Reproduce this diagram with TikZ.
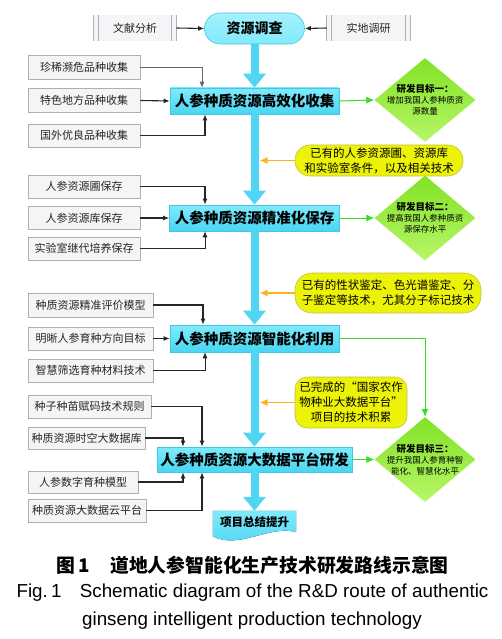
\documentclass[tikz,border=0pt]{standalone}
\usepackage{fontspec}
\setmainfont{Liberation Sans}
\newfontfamily\cjk{Noto Sans CJK SC}
\usepackage{tikz}
\usetikzlibrary{arrows.meta,calc,positioning,shapes.geometric,backgrounds}

\definecolor{srcgray}{RGB}{243,245,246}
\definecolor{srcedge}{RGB}{172,176,178}
\definecolor{stagetop}{RGB}{128,234,251}
\definecolor{stagebot}{RGB}{72,214,243}
\definecolor{stageedge}{RGB}{70,196,228}
\definecolor{spinecyan}{RGB}{80,214,244}
\definecolor{goaltop}{RGB}{130,226,38}
\definecolor{goalbot}{RGB}{182,246,104}
\definecolor{basisfill}{RGB}{236,242,8}
\definecolor{basisedge}{RGB}{190,196,70}
\definecolor{linkgreen}{RGB}{52,222,34}
\definecolor{linkorange}{RGB}{255,176,30}

\tikzset{
	src/.style={draw=srcedge, fill=srcgray, line width=0.6pt, minimum height=23pt, inner sep=0pt, text=black!85, font=\cjk\fontsize{11}{13}\selectfont},
	stage/.style={draw=stageedge, top color=stagetop, bottom color=stagebot, line width=0.6pt, minimum height=26pt, inner sep=0pt, font=\cjk\bfseries\fontsize{14.5}{16}\selectfont},
	goal/.style={diamond, top color=goaltop, bottom color=goalbot, inner sep=0pt, minimum width=101pt, minimum height=84pt},
	goaltxt/.style={align=center, font=\cjk\fontsize{8.5}{11}\selectfont},
	basis/.style={draw=basisedge, fill=basisfill, line width=0.6pt, align=center, inner sep=0pt, font=\cjk\fontsize{11.5}{15}\selectfont},
	feed/.style={draw=black!85, line width=1.1pt, -{Latex[length=6pt,width=5pt]}},
	togoal/.style={draw=linkgreen, line width=1pt, -{Latex[length=8pt,width=7pt]}},
	tospine/.style={draw=linkorange, line width=1.2pt, -{Latex[length=8pt,width=7pt]}},
	flow/.style={draw=spinecyan, line width=8pt, -{Triangle[length=14pt,width=22pt]}}
}

\begin{document}
\begin{tikzpicture}[x=1pt, y=-1pt]
	\useasboundingbox (0,0) rectangle (501,639);
	
	% survey row
	\node[src, draw=none, minimum width=82pt, minimum height=26pt] (lit) at (135,28) {文献分析};
	\node[src, draw=none, minimum width=83pt, minimum height=26pt] (field) at (368.5,28) {实地调研};
	\foreach \b in {lit,field}
		\draw[srcedge, line width=0.6pt] (\b.north west) -- (\b.south west)
			([xshift=5pt]\b.north west) -- ([xshift=5pt]\b.south west)
			([xshift=-5pt]\b.north east) -- ([xshift=-5pt]\b.south east)
			(\b.north east) -- (\b.south east);
	\node[draw=stageedge, top color=stagetop!70!white, bottom color=stagetop, line width=0.6pt, rounded corners=15.5pt, minimum width=100pt, minimum height=31pt, inner sep=0pt, font=\cjk\bfseries\fontsize{14}{16}\selectfont] (survey) at (254.5,28.5) {资源调查};
	\draw[feed] (lit.east) -- (survey.west);
	\draw[feed] (field.west) -- (survey.east);
	
	% four stages
	\node[stage, minimum width=169pt] (collect) at (254.5,101) {人参种质资源高效化收集};
	\node[stage, minimum width=170pt] (preserve) at (254.5,218) {人参种质资源精准化保存};
	\node[stage, minimum width=169pt, minimum height=27pt] (utilize) at (254.5,338.5) {人参种质资源智能化利用};
	\node[stage, minimum width=195pt, minimum height=25pt] (bigdata) at (254.5,459.5) {人参种质资源大数据平台研发};
	\node[minimum width=83pt, minimum height=23pt, inner sep=0pt, font=\cjk\bfseries\fontsize{11.5}{13}\selectfont] (summary) at (254.5,522.5) {项目总结提升};
	\begin{scope}[on background layer]
		\fill[top color=stagetop, bottom color=stagebot] (summary.north west) -- (summary.north east)
			-- ($(summary.south east)+(0,-2)$) .. controls ($(summary.south east)+(-26,-10)$) and ($(summary.south west)+(26,16)$) .. ($(summary.south west)+(0,2)$) -- cycle;
	\end{scope}
	
	\draw[flow] (survey.south) -- (collect.north);
	\draw[flow] (collect.south) -- (preserve.north);
	\draw[flow] (preserve.south) -- (utilize.north);
	\draw[flow] (utilize.south) -- (bigdata.north);
	\draw[flow] (bigdata.south) -- (summary.north);
	\coordinate (spine) at (259.5,0);
	
	% inputs: collection
	\node[src, minimum width=112pt, minimum height=24pt] (rare) at (84,67) {珍稀濒危品种收集};
	\node[src, minimum width=112pt, minimum height=24pt] (local) at (84,100.5) {特色地方品种收集};
	\node[src, minimum width=112pt] (foreign) at (84,135.5) {国外优良品种收集};
	\draw[feed, draw=black!60, line width=0.8pt] (rare.east) -| ([xshift=-52.5pt]collect.north);
	\draw[feed] (local.east) -- (collect.west);
	\draw[feed] (foreign.east) -| ([xshift=-49.5pt]collect.south);
	
	% inputs: preservation
	\node[src, minimum width=112pt] (garden) at (84,186.5) {人参资源圃保存};
	\node[src, minimum width=112pt] (bank) at (84,218) {人参资源库保存};
	\node[src, minimum width=112pt] (lab) at (84,248.5) {实验室继代培养保存};
	\draw[feed] (garden.east) -| ([xshift=-49.5pt]preserve.north);
	\draw[feed] (bank.east) -- (preserve.west);
	\draw[feed, line width=0.8pt] (lab.east) -| ([xshift=-49.5pt]preserve.south);
	
	% inputs: utilization
	\node[src, minimum width=125pt, minimum height=24pt] (evalm) at (90.5,305) {种质资源精准评价模型};
	\node[src, minimum width=125pt] (target) at (90.5,338.5) {明晰人参育种方向目标};
	\node[src, minimum width=125pt] (screen) at (90.5,370.5) {智慧筛选育种材料技术};
	\draw[feed] (evalm.east) -| ([xshift=-51.5pt]utilize.north);
	\draw[feed] (target.east) -- (utilize.west);
	\draw[feed, line width=0.8pt] (screen.east) -| ([xshift=-49.5pt]utilize.south);
	
	% inputs: big data
	\node[src, minimum width=123pt] (coding) at (89.5,406.5) {种子种苗赋码技术规则};
	\node[src, minimum width=117pt, minimum height=22pt] (stdb) at (86.5,438) {种质资源时空大数据库};
	\node[src, minimum width=110pt, minimum height=22pt] (breed) at (83,482) {人参数字育种模型};
	\node[src, minimum width=118pt] (cloud) at (87,510.5) {种质资源大数据云平台};
	\draw[feed] (coding.east) -| ([xshift=-52.5pt]bigdata.north);
	\draw[feed] (stdb.east) -| ([xshift=-71.5pt]bigdata.north);
	\draw[feed] (breed.east) -| ([xshift=-71.5pt]bigdata.south);
	\draw[feed] (cloud.east) -| ([xshift=-52.5pt]bigdata.south);
	
	% goals
	\node[goal] (g1) at (425,100) {};
	\node[goaltxt] (g1txt) at (g1.center) {{\bfseries\fontsize{9.5}{11}\selectfont 研发目标一：}\\增加我国人参种质资\\源数量};
	\node[goal, minimum height=85pt] (g2) at (425,218) {};
	\node[goaltxt] (g2txt) at (g2.center) {{\bfseries\fontsize{9.5}{11}\selectfont 研发目标二：}\\提高我国人参种质资\\源保存水平};
	\node[goal, minimum height=85pt] (g3) at (425,459.5) {};
	\node[goaltxt] (g3txt) at (g3.center) {{\bfseries\fontsize{9.5}{11}\selectfont 研发目标三：}\\提升我国人参育种智\\能化、智慧化水平};
	\draw[togoal] (collect.east) -- (g1.west);
	\draw[togoal] (preserve.east) -- (g2.west);
	\draw[togoal] (utilize.east) -| (g3.north);
	\draw[togoal] (bigdata.east) -- (g3.west);
	
	% existing basis
	\node[basis, rounded corners=15pt, minimum width=168pt, minimum height=31pt] (y1) at (379,160.5) {已有的人参资源圃、资源库\\和实验室条件，以及相关技术};
	\node[basis, rounded corners=17pt, minimum width=186pt, minimum height=40pt] (y2) at (388,293) {已有的性状鉴定、色光谱鉴定、分\\子鉴定等技术，尤其分子标记技术};
	\node[basis, rounded corners=12pt, minimum width=112pt, minimum height=51pt] (y3) at (351,402.5) {已完成的“国家农作\\物种业大数据平台”\\项目的技术积累};
	\foreach \y in {y1,y2,y3}
		\draw[tospine] (\y.west) -- (\y.west -| spine);
	
	% caption
	\node[font=\cjk\bfseries\fontsize{18.8}{21}\selectfont] (capcn) at (252.5,565) {图\,1\hspace{1.1em}道地人参智能化生产技术研发路线示意图};
	\node[font=\fontsize{18.8}{21}\selectfont] (capen) at (252.5,593) {Fig.\,1\hspace{0.7em} Schematic diagram of the R\&D route of authentic};
	\node[font=\fontsize{18.8}{21}\selectfont] (capen2) at (252,621) {ginseng intelligent production technology};
\end{tikzpicture}
\end{document}
